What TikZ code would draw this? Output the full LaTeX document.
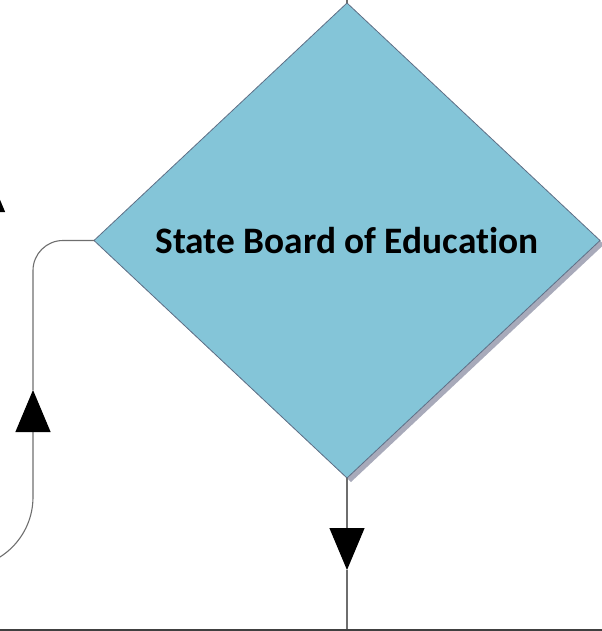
\documentclass[tikz,border=0pt]{standalone}
\usepackage{fontspec}
\setmainfont{Carlito}[Ligatures=NoCommon]
\usetikzlibrary{shapes.geometric, shadows, arrows.meta, positioning}

\definecolor{boardfill}{HTML}{84C5D8}
\definecolor{boardedge}{HTML}{5F6F86}
\definecolor{boardshadow}{HTML}{A8AABA}
\definecolor{flowgray}{HTML}{6E6E6E}
\definecolor{floorgray}{HTML}{404040}

\begin{document}
\begin{tikzpicture}[x=1bp, y=-1bp]
    \tikzstyle{board} = [diamond, draw=boardedge, fill=boardfill, line width=0.8bp, inner sep=0pt, outer sep=0pt,
        minimum width=506bp, minimum height=475bp,
        drop shadow={shadow xshift=4bp, shadow yshift=-4bp, fill=boardshadow, opacity=1},
        font=\fontsize{37.5}{44}\selectfont\bfseries];
    \tikzstyle{flow} = [draw=flowgray, line width=1.1bp];
    \tikzstyle{tip} = [-{Triangle[length=42bp, width=35bp, black]}];

    \useasboundingbox (0,0) rectangle (602,631);
    \clip (0,0) rectangle (602,631);

    \node[board] (sbe) at (347,240.5) {State Board of Education};

    \coordinate (topEnd) at (347,0);
    \coordinate (downTip) at (347,570);
    \coordinate (floorMid) at (347,631);
    \coordinate (floorL) at (0,630);
    \coordinate (floorR) at (602,630);
    \coordinate (loopOut) at (-60,568);
    \coordinate (loopBend) at (33,568);
    \coordinate (loopTip) at (33,390);
    \coordinate (sideFoot) at (-12.5,300);
    \coordinate (sideTip) at (-12.5,170);

    \draw[flow] (sbe.north) -- (topEnd);
    \draw[flow, tip] (sbe.south) -- (downTip);
    \draw[flow] (downTip) -- (floorMid);
    \draw[draw=floorgray, line width=1.2bp] (floorL) -- (floorR);

    \draw[flow, tip, rounded corners=71bp] (loopOut) -- (loopBend) -- (loopTip);
    \draw[flow, rounded corners=30bp] (loopTip) |- (sbe.west);
    \draw[flow, tip] (sideFoot) -- (sideTip);
\end{tikzpicture}
\end{document}
